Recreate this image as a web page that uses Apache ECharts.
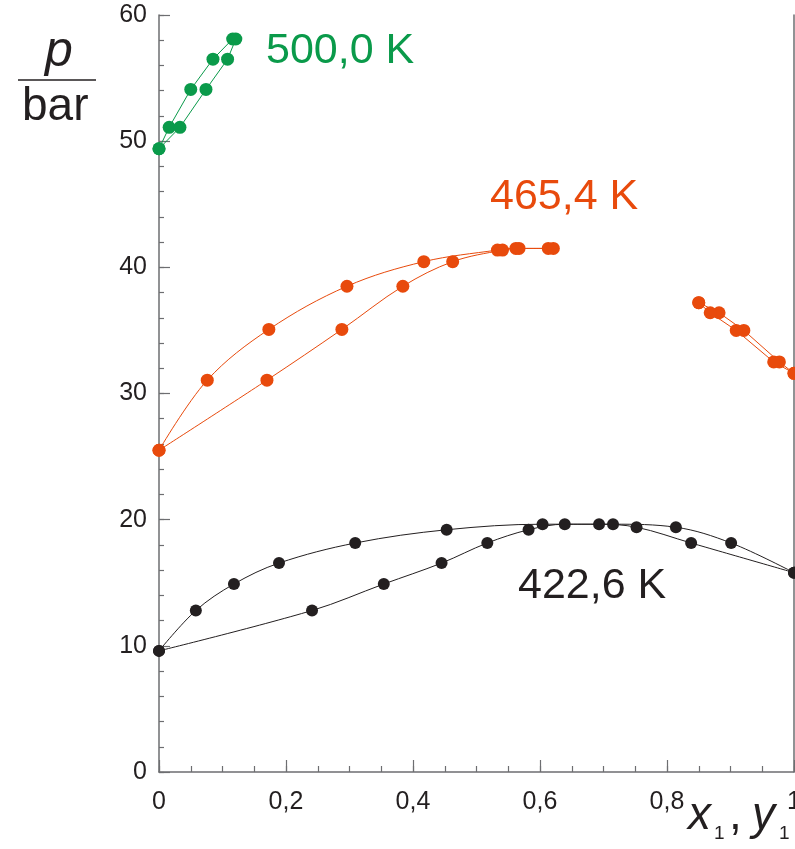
<!DOCTYPE html>
<html>
<head>
<meta charset="utf-8">
<script src="https://cdn.jsdelivr.net/npm/echarts@6/dist/echarts.min.js"></script>
<style>
html,body{margin:0;padding:0;background:#fff;}
#chart{width:795px;height:849px;}
</style>
</head>
<body>
<div id="chart"></div>
<script>
// ---- data (p in bar, x1 = liquid, y1 = vapour) ----
const xTicks = [0, 0.2, 0.4, 0.6, 0.8, 1];
const yTicks = [0, 10, 20, 30, 40, 50, 60];

const T500_label = "500,0 K";
const T500_p = [49.4, 51.1, 54.1, 56.5, 58.1];
const T500_x = [0, 0.016, 0.050, 0.085, 0.116];
const T500_y = [0, 0.033, 0.074, 0.108, 0.121];

const T465_label = "465,4 K";
const T465_p = [25.5, 31.06, 35.08, 38.5, 40.45, 41.37, 41.5, 41.5];
const T465_x = [0, 0.076, 0.173, 0.296, 0.417, 0.533, 0.562, 0.613];
const T465_y = [0, 0.170, 0.288, 0.384, 0.4625, 0.541, 0.567, 0.621];

const T465r_p = [37.2, 36.4, 35.0, 32.5, 31.6];
const T465r_x = [0.850, 0.882, 0.921, 0.977, 1.0];
const T465r_y = [0.850, 0.868, 0.909, 0.968, 1.0];

const T422_label = "422,6 K";
const T422_p = [9.6, 12.8, 14.9, 16.56, 18.15, 19.2, 19.64, 19.64, 19.4, 18.15, 15.8];
const T422_x = [0, 0.058, 0.118, 0.189, 0.309, 0.453, 0.604, 0.715, 0.814, 0.901, 1];
const T422_y = [0, 0.241, 0.354, 0.445, 0.517, 0.582, 0.639, 0.693, 0.752, 0.838, 1];

// ---- styling ----
const GREEN = '#0a9a4a', ORANGE = '#e84a0c', BLACK = '#231f20', AXIS = '#6d6e71';
const FONT = '"Liberation Sans", Arial, Helvetica, sans-serif';

function pairs(xs, ps) { return xs.map((v, i) => [v, ps[i]]); }

function curve(xs, ps, color, size, smooth) {
  return {
    type: 'line',
    data: pairs(xs, ps),
    smooth: smooth ? 0.35 : false,
    symbol: 'circle',
    symbolSize: size,
    showAllSymbol: true,
    clip: false,
    lineStyle: { color: color, width: 1 },
    itemStyle: { color: color },
    animation: false,
    z: 3
  };
}

const chart = echarts.init(document.getElementById('chart'), null, { renderer: 'canvas' });

const hidden = { show: false };
const option = {
  animation: false,
  backgroundColor: '#fff',
  grid: { left: 159, top: 15, width: 635, height: 757, containLabel: false, outerBoundsMode: 'none' },
  xAxis: [{
    type: 'value', min: xTicks[0], max: xTicks[xTicks.length - 1], interval: 0.2,
    axisLine: { show: true, lineStyle: { color: AXIS, width: 1.5 } },
    axisTick: { show: true, inside: true, length: 12, lineStyle: { color: AXIS, width: 1.2 } },
    splitLine: hidden,
    axisLabel: {
      margin: 18, fontSize: 25, color: BLACK, fontFamily: FONT,
      formatter: v => String(Math.round(v * 10) / 10).replace('.', ',')
    }
  }, {
    // minor ticks (inside)
    type: 'value', position: 'bottom', min: 0, max: 1, interval: 0.05,
    axisLine: { show: false, onZero: false },
    axisTick: { show: true, inside: true, length: 6, lineStyle: { color: AXIS, width: 1.2 } },
    axisLabel: hidden, splitLine: hidden
  }],
  yAxis: [{
    type: 'value', min: yTicks[0], max: yTicks[yTicks.length - 1], interval: 10,
    axisLine: { show: true, lineStyle: { color: AXIS, width: 1.5 } },
    axisTick: { show: true, inside: true, length: 11, lineStyle: { color: AXIS, width: 1.2 } },
    splitLine: hidden,
    axisLabel: { margin: 12, fontSize: 25, color: BLACK, fontFamily: FONT }
  }, {
    type: 'value', position: 'right', min: 0, max: 60, interval: 10,
    axisLine: { show: true, onZero: false, lineStyle: { color: AXIS, width: 1.5 } },
    axisTick: hidden, axisLabel: hidden, splitLine: hidden
  }, {
    // minor ticks (inside)
    type: 'value', position: 'left', min: 0, max: 60, interval: 2,
    axisLine: { show: false, onZero: false },
    axisTick: { show: true, inside: true, length: 5, lineStyle: { color: AXIS, width: 1.2 } },
    axisLabel: hidden, splitLine: hidden
  }],
  series: [
    curve(T500_x, T500_p, GREEN, 13, false),
    curve(T500_y, T500_p, GREEN, 13, false),
    curve(T465_x, T465_p, ORANGE, 13, true),
    curve(T465_y, T465_p, ORANGE, 13, true),
    curve(T465r_x, T465r_p, ORANGE, 13, false),
    curve(T465r_y, T465r_p, ORANGE, 13, false),
    curve(T422_x, T422_p, BLACK, 12, true),
    curve(T422_y, T422_p, BLACK, 12, true)
  ],
  graphic: [
    { type: 'text', left: 266, top: 30, style: { text: T500_label, font: '43px ' + FONT, fill: GREEN } },
    { type: 'text', left: 490, top: 176, style: { text: T465_label, font: '43px ' + FONT, fill: ORANGE } },
    { type: 'text', left: 518, top: 565, style: { text: T422_label, font: '43px ' + FONT, fill: BLACK } },
    { type: 'text', left: 45, top: 27, style: { text: 'p', font: 'italic 50px ' + FONT, fill: BLACK } },
    { type: 'line', shape: { x1: 18, y1: 80, x2: 96, y2: 80 }, style: { stroke: BLACK, lineWidth: 1.5 } },
    { type: 'text', left: 22, top: 84, style: { text: 'bar', font: '46px ' + FONT, fill: BLACK } },
    { type: 'text', left: 688, top: 793, style: { text: 'x', font: 'italic 46px ' + FONT, fill: BLACK } },
    { type: 'text', left: 714, top: 824, style: { text: '1', font: '19px ' + FONT, fill: BLACK } },
    { type: 'text', left: 729, top: 793, style: { text: ',', font: '46px ' + FONT, fill: BLACK } },
    { type: 'text', left: 752, top: 793, style: { text: 'y', font: 'italic 46px ' + FONT, fill: BLACK } },
    { type: 'text', left: 779, top: 824, style: { text: '1', font: '19px ' + FONT, fill: BLACK } }
  ]
};
chart.setOption(option);
</script>
</body>
</html>
